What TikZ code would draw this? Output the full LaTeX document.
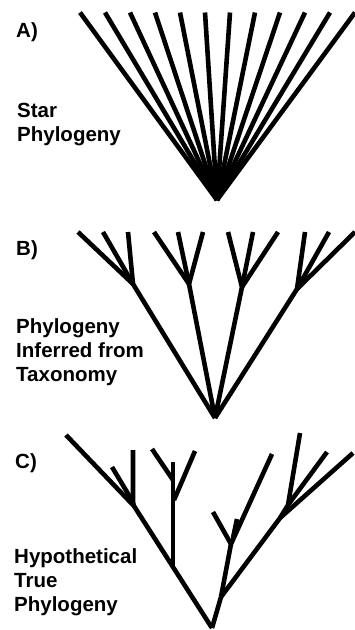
\documentclass[tikz,border=0pt]{standalone}
\usepackage{fontspec}
\setmainfont{Liberation Sans}
\begin{document}
\begin{tikzpicture}[x=1pt,y=-1pt,
  branch/.style={line width=4.6pt,line join=round},
  lbl/.style={anchor=base west,inner sep=0pt,font=\bfseries\fontsize{20.5}{24}\selectfont}]
\useasboundingbox (0,0) rectangle (355,630);
% ---------- Panel A ----------
\node[lbl] (la) at (16,37) {A)};
\node[lbl] (la1) at (17,117) {Star};
\node[lbl] (la2) at (17,141) {Phylogeny};
\coordinate (ra) at (217,200);
\foreach \x [count=\i] in {80,105,130,155,180,205,230,255,280,305,330,355}
  {\coordinate (ta\i) at (\x,12.5);
   \draw[branch] (ta\i) -- (ra);}
\coordinate (fa1) at (193,170);
\coordinate (fa2) at (241,170);
\fill (fa1) -- (fa2) -- (ra) -- cycle;
% ---------- Panel B ----------
\node[lbl] (lb) at (16,255) {B)};
\node[lbl] (lb1) at (16,333) {Phylogeny};
\node[lbl] (lb2) at (16,357) {Inferred from};
\node[lbl] (lb3) at (16,381) {Taxonomy};
\coordinate (rb) at (215,418);
\coordinate (b1) at (133,284);
\coordinate (b2) at (189,284);
\coordinate (b3) at (242,287);
\coordinate (b4) at (297,289);
\foreach \n/\xa/\xb/\xc in {b1/78/103/128, b2/154/178/203, b3/228/253/278, b4/305/329/355}
  {\coordinate (\n a) at (\xa,232);
   \coordinate (\n b) at (\xb,232);
   \coordinate (\n c) at (\xc,232);
   \draw[branch] (\n a) -- (\n);
   \draw[branch] (\n b) -- (\n);
   \draw[branch] (\n c) -- (\n);
   \draw[branch] (\n) -- (rb);}
% ---------- Panel C ----------
\node[lbl] (lc) at (15,468) {C)};
\node[lbl] (lc1) at (14,563) {Hypothetical};
\node[lbl] (lc2) at (14,587) {True};
\node[lbl] (lc3) at (14,611) {Phylogeny};
\coordinate (rc) at (212,628);
% left clade
\coordinate (na) at (173,567);
\coordinate (nb) at (134,506);
\coordinate (tl) at (66,435);
\draw[branch] (tl) -- (nb) -- (na) -- (rc);
\coordinate (tb1) at (112,467);
\coordinate (tb2) at (133,450);
\coordinate (jb) at (133,502);
\draw[branch] (tb1) -- (jb);
\draw[branch] (tb2) -- (jb) -- (nb);
\coordinate (va) at (173,462);
\coordinate (ja1) at (173,480);
\coordinate (ja2) at (174,500);
\coordinate (tv1) at (152,449);
\coordinate (tv2) at (195,451);
\draw[branch] (na) -- (va);
\draw[branch] (tv1) -- (ja1);
\draw[branch] (tv2) -- (ja2);
% right clade
\coordinate (nc) at (221,597);
\coordinate (nd) at (231,544);
\coordinate (ne) at (280,518);
\coordinate (nf) at (288,505);
\draw[branch] (rc) -- (nc);
\coordinate (td) at (272,454);
\coordinate (td1) at (213,512);
\coordinate (td2) at (237,519);
\coordinate (jd) at (233,538);
\draw[branch] (nc) -- (nd) -- (td);
\draw[branch] (td1) -- (nd);
\draw[branch] (td2) -- (jd);
\coordinate (te) at (353,453);
\coordinate (tf1) at (300,433);
\coordinate (tf2) at (327,452);
\draw[branch] (nc) -- (ne) -- (te);
\draw[branch] (ne) -- (nf) -- (tf1);
\draw[branch] (nf) -- (tf2);
\end{tikzpicture}
\end{document}
